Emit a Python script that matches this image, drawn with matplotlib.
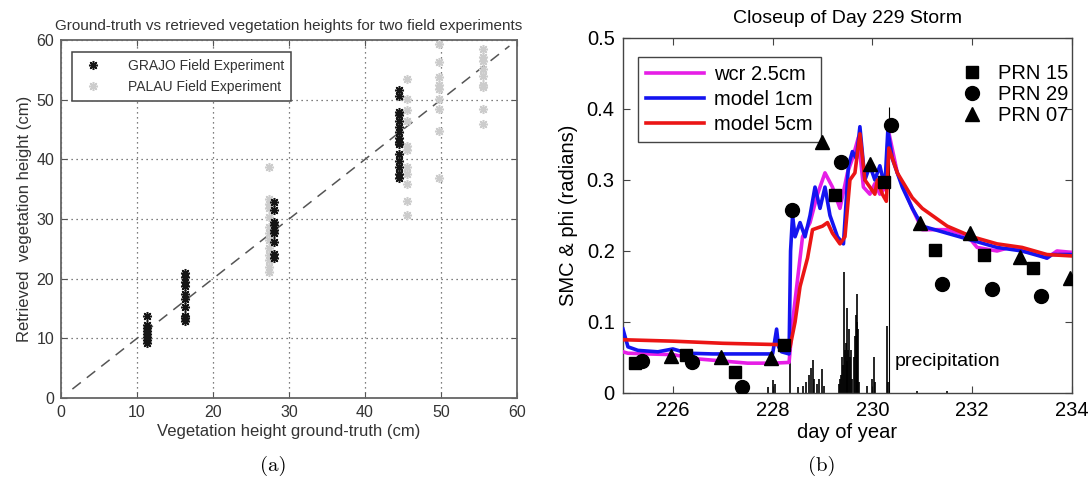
import numpy as np
import matplotlib.pyplot as plt
from matplotlib.lines import Line2D

plt.rcParams['font.family'] = ['Liberation Sans', 'DejaVu Sans']

# ------------------------------
# (a) vegetation heights
# ------------------------------
grajo_x = [11.3] * 8 + [16.3] * 10 + [28.0] * 9 + [44.5] * 15
grajo_y = [9.3, 9.8, 10.2, 10.8, 11.3, 11.8, 12.2, 13.8,
           12.9, 13.4, 13.8, 15.2, 16.6, 17.5, 18.7, 19.5, 20.3, 21.0,
           23.5, 24.1, 26.1, 27.6, 28.2, 29.0, 29.5, 31.5, 32.9,
           36.8, 37.6, 38.7, 39.8, 40.9, 42.6, 42.9, 43.6, 44.6, 45.4,
           46.5, 47.4, 48.0, 50.7, 51.6]

palau_x = [27.4] * 13 + [45.5] * 11 + [49.7] * 9 + [55.5] * 9
palau_y = [21.2, 22.0, 23.1, 24.0, 25.1, 26.5, 27.6, 28.7, 30.4, 31.8, 32.6, 33.3, 38.7,
           30.6, 33.1, 35.9, 37.6, 38.7, 41.6, 42.3, 46.5, 48.2, 50.1, 53.4,
           36.8, 44.8, 48.4, 50.1, 51.8, 52.4, 53.8, 56.3, 59.3,
           45.9, 48.4, 52.1, 52.4, 54.0, 55.2, 56.5, 57.1, 58.5]

one_to_one = [1.5, 59.0]

# ------------------------------
# (b) day 229 storm
# ------------------------------
wcr_day = [225.0, 225.1, 225.5, 226.0, 226.5, 227.0, 227.5, 228.0, 228.33,
           228.4, 228.5, 228.6, 228.75, 228.9, 229.05, 229.2, 229.35, 229.5,
           229.6, 229.72, 229.82, 229.95, 230.05, 230.15, 230.27, 230.32,
           230.5, 230.8, 231.0, 231.5, 231.9, 232.1, 232.5, 232.8, 233.0,
           233.3, 233.5, 233.7, 234.0]
wcr_val = [0.058, 0.056, 0.055, 0.054, 0.048, 0.045, 0.042, 0.042, 0.043,
           0.10, 0.16, 0.22, 0.24, 0.28, 0.31, 0.29, 0.26, 0.31,
           0.33, 0.36, 0.29, 0.28, 0.295, 0.28, 0.29, 0.37,
           0.31, 0.26, 0.23, 0.23, 0.222, 0.205, 0.20, 0.206, 0.20,
           0.196, 0.19, 0.20, 0.198]

m1_day = [225.0, 225.1, 225.3, 225.7, 226.0, 226.3, 226.8, 227.5, 228.0,
          228.08, 228.12, 228.18, 228.33, 228.36, 228.4, 228.45, 228.55, 228.65,
          228.75, 228.85, 228.95, 229.05, 229.15, 229.3, 229.42, 229.52, 229.6,
          229.68, 229.75, 229.85, 229.95, 230.05, 230.15, 230.25, 230.31, 230.4,
          230.6, 230.8, 231.0, 231.5, 232.0, 232.5, 233.0, 233.5, 233.6, 234.0]
m1_val = [0.09, 0.065, 0.06, 0.058, 0.062, 0.056, 0.055, 0.055, 0.055,
          0.09, 0.065, 0.058, 0.055, 0.20, 0.25, 0.22, 0.24, 0.22,
          0.25, 0.29, 0.26, 0.29, 0.25, 0.22, 0.21, 0.32, 0.34,
          0.33, 0.375, 0.30, 0.32, 0.30, 0.32, 0.29, 0.37, 0.33,
          0.29, 0.26, 0.235, 0.225, 0.215, 0.205, 0.20, 0.19, 0.195, 0.195]

m5_day = [225.0, 226.0, 227.0, 228.2, 228.35, 228.45, 228.55, 228.7, 228.8,
          229.0, 229.1, 229.2, 229.35, 229.45, 229.55, 229.65, 229.75, 229.85,
          229.95, 230.05, 230.1, 230.2, 230.28, 230.33, 230.5, 230.8, 231.0,
          231.5, 232.0, 232.5, 233.0, 233.5, 234.0]
m5_val = [0.075, 0.073, 0.070, 0.068, 0.065, 0.10, 0.15, 0.19, 0.23,
          0.235, 0.24, 0.225, 0.21, 0.22, 0.30, 0.31, 0.365, 0.30,
          0.29, 0.28, 0.30, 0.28, 0.27, 0.345, 0.31, 0.275, 0.26,
          0.235, 0.22, 0.21, 0.205, 0.195, 0.193]

prn15_day = [225.25, 226.27, 227.25, 228.23, 229.25, 230.24, 231.26, 232.24, 233.23]
prn15_val = [0.042, 0.054, 0.030, 0.068, 0.279, 0.297, 0.201, 0.194, 0.176]
prn29_day = [225.39, 226.39, 227.39, 228.38, 229.37, 230.38, 231.39, 232.40, 233.38]
prn29_val = [0.045, 0.043, 0.008, 0.258, 0.326, 0.377, 0.153, 0.147, 0.137]
prn07_day = [225.97, 226.97, 227.97, 228.99, 229.96, 230.96, 231.95, 232.95, 233.97]
prn07_val = [0.052, 0.051, 0.049, 0.354, 0.322, 0.240, 0.225, 0.192, 0.162]

precip_day = [227.9, 228.0, 228.05, 228.35, 228.51, 228.6, 228.67, 228.72, 228.77,
              228.8, 228.83, 228.88, 228.93, 229.0, 229.03, 229.33, 229.35, 229.37,
              229.4, 229.42, 229.43, 229.45, 229.47, 229.49, 229.5, 229.52, 229.53,
              229.55, 229.57, 229.6, 229.63, 229.65, 229.67, 229.69, 229.7, 229.71,
              229.73, 229.9, 230.0, 230.03, 230.06, 230.29, 230.32, 230.9, 231.5]
precip_val = [0.008, 0.018, 0.013, 0.065, 0.008, 0.010, 0.015, 0.025, 0.035,
              0.047, 0.020, 0.012, 0.020, 0.034, 0.010, 0.012, 0.020, 0.026,
              0.050, 0.040, 0.170, 0.060, 0.070, 0.045, 0.120, 0.060, 0.090,
              0.050, 0.060, 0.020, 0.050, 0.080, 0.110, 0.100, 0.140, 0.090,
              0.015, 0.010, 0.020, 0.050, 0.015, 0.095, 0.015, 0.003, 0.003]
storm_day = 230.33
storm_top = 0.403

# ------------------------------
# Figure
# ------------------------------
fig = plt.figure(figsize=(10.91, 4.88), dpi=100)
ax1 = fig.add_axes([0.0559, 0.1844, 0.418, 0.7336])
ax2 = fig.add_axes([0.571, 0.1947, 0.4115, 0.7275])

# ---- panel (a)
txt = '#333333'
ax1.plot(one_to_one, one_to_one, color='#555555', ls=(0, (7, 5)), lw=1.1, zorder=2)
ax1.plot(palau_x, palau_y, ls='none', marker=(8, 2, 0), ms=6.5, mew=1.1,
         color='#cccccc', label='PALAU Field Experiment', zorder=3)
ax1.plot(grajo_x, grajo_y, ls='none', marker=(8, 2, 0), ms=6.5, mew=1.1,
         color='#151515', label='GRAJO Field Experiment', zorder=4)
ax1.set_xlim(0, 60)
ax1.set_ylim(0, 60)
ax1.set_xticks(range(0, 61, 10))
ax1.set_yticks(range(0, 61, 10))
ax1.grid(True, color='#555555', ls=(0, (1, 3)), lw=0.9)
ax1.tick_params(direction='in', top=True, right=True, labelsize=11.5,
                labelcolor=txt, color='#555555', length=4, pad=5)
for s in ax1.spines.values():
    s.set_color('#666666')
    s.set_linewidth(1.3)
ax1.set_title('Ground-truth vs retrieved vegetation heights for two field experiments',
              fontsize=11, color=txt, pad=7)
ax1.set_xlabel('Vegetation height ground-truth (cm)', fontsize=12, color=txt, labelpad=3)
ax1.set_ylabel('Retrieved  vegetation height (cm)', fontsize=12, color=txt, labelpad=3)
h, l = ax1.get_legend_handles_labels()
leg1 = ax1.legend(h[::-1], l[::-1], loc='upper left', fontsize=10, fancybox=False,
                  edgecolor='#444444', framealpha=1, borderpad=0.5,
                  bbox_to_anchor=(0.01, 0.985), handletextpad=1.5)
leg1.get_frame().set_linewidth(1.1)
for t in leg1.get_texts():
    t.set_color(txt)

# ---- panel (b)
ax2.vlines(precip_day, 0, precip_val, color='k', lw=1.2, zorder=2)
ax2.vlines([storm_day], 0, storm_top, color='k', lw=0.8, zorder=2)
ax2.plot(wcr_day, wcr_val, color='#e61ee6', lw=2.6, label='wcr 2.5cm', zorder=3)
ax2.plot(m1_day, m1_val, color='#1414f0', lw=2.6, label='model 1cm', zorder=4)
ax2.plot(m5_day, m5_val, color='#eb1515', lw=2.6, label='model 5cm', zorder=5)
ax2.plot(prn15_day, prn15_val, 's', color='k', ms=8, zorder=6)
ax2.plot(prn29_day, prn29_val, 'o', color='k', ms=10, zorder=6)
ax2.plot(prn07_day, prn07_val, '^', color='k', ms=10, zorder=6)
ax2.text(230.45, 0.045, 'precipitation', fontsize=14, va='center')

ax2.set_xlim(225, 234)
ax2.set_ylim(0, 0.5)
ax2.set_xticks([226, 228, 230, 232, 234])
ax2.set_yticks([0, 0.1, 0.2, 0.3, 0.4, 0.5])
ax2.set_yticklabels(['0', '0.1', '0.2', '0.3', '0.4', '0.5'])
ax2.tick_params(direction='in', top=True, right=True, labelsize=14.5,
                length=5, pad=6, color='#444444')
for s in ax2.spines.values():
    s.set_color('#444444')
    s.set_linewidth(1.0)
ax2.set_title('Closeup of Day 229 Storm', fontsize=14, pad=11)
ax2.set_xlabel('day of year', fontsize=14.5, labelpad=2)
ax2.set_ylabel('SMC & phi (radians)', fontsize=14.5, labelpad=6)

leg2 = ax2.legend(loc='upper left', fontsize=14.5, fancybox=False, edgecolor='#444444',
                  framealpha=1, handlelength=2.9, handletextpad=0.5, borderpad=0.4,
                  labelspacing=0.3, bbox_to_anchor=(0.01, 0.975))
leg2.get_frame().set_linewidth(1.0)
marker_handles = [
    Line2D([0], [0], marker='s', color='k', ls='none', ms=8, label='PRN 15'),
    Line2D([0], [0], marker='o', color='k', ls='none', ms=10, label='PRN 29'),
    Line2D([0], [0], marker='^', color='k', ls='none', ms=10, label='PRN 07'),
]
ax2.legend(handles=marker_handles, loc='upper right', fontsize=14.5, frameon=False,
           bbox_to_anchor=(1.02, 0.96), labelspacing=0.1, handletextpad=0.7,
           borderaxespad=0.2, handlelength=1.2)
ax2.add_artist(leg2)

fig.text(0.250, 0.045, '(a)', fontsize=15, family='cmr10', ha='center', va='center')
fig.text(0.753, 0.045, '(b)', fontsize=15, family='cmr10', ha='center', va='center')

plt.savefig('out.png', dpi=100)
